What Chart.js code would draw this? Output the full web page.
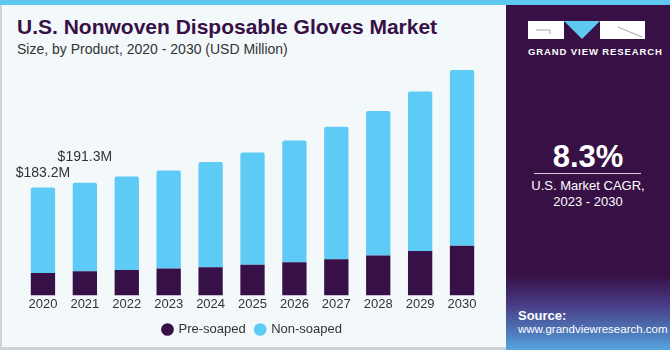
<!DOCTYPE html>
<html><head><meta charset="utf-8">
<script src="https://cdn.jsdelivr.net/npm/chart.js@4"></script>
<style>
html,body{margin:0;padding:0;}
body{width:670px;height:350px;position:relative;overflow:hidden;background:#f3f8fb;font-family:"Liberation Sans",Arial,sans-serif;}
#stripe{position:absolute;left:0;top:0;width:670px;height:5px;background:#5ec8f0;}
#lb{position:absolute;left:0;top:5px;width:2px;height:345px;background:#d0d3d6;}
#bb{position:absolute;left:0;top:347px;width:506px;height:3px;background:#d0d3d6;}
#title{position:absolute;left:17px;top:15px;font-size:21px;font-weight:bold;color:#371046;white-space:nowrap;}
#sub{position:absolute;left:17px;top:41px;font-size:14px;color:#333;white-space:nowrap;}
#panel{position:absolute;left:506px;top:5px;width:164px;height:345px;background:linear-gradient(to bottom,#371046 0px,#371046 270px,#4a3c86 300px,#4f7fbf 330px,#57a6de 345px);}
#wrap{position:absolute;left:0;top:60px;width:505px;height:286px;}
.w{color:#fff;position:absolute;white-space:nowrap;}
</style></head>
<body>
<div id="stripe"></div>
<div id="lb"></div>
<div id="bb"></div>
<div id="title">U.S. Nonwoven Disposable Gloves Market</div>
<div id="sub">Size, by Product, 2020 - 2030 (USD Million)</div>
<div id="panel">
  <svg style="position:absolute;left:0;top:0" width="164" height="50">
    <rect x="22" y="16" width="36" height="18" fill="#fff"/>
    <polyline points="30,25 44,25 44,29" fill="none" stroke="#8a8a9a" stroke-width="0.8"/>
    <polygon points="58,16 94,16 76,34" fill="#5ec8f0"/>
    <rect x="94" y="16" width="45" height="18" fill="#fff"/>
    <line x1="112" y1="22" x2="136" y2="32" stroke="#8a8a9a" stroke-width="0.8"/>
  </svg>
  <div class="w" style="left:22px;top:41px;width:117px;text-align:center;font-size:9.5px;font-weight:bold;letter-spacing:0.9px;">GRAND VIEW RESEARCH</div>
  <div class="w" style="left:0;top:134px;width:164px;text-align:center;font-size:31px;font-weight:bold;">8.3%</div>
  <div style="position:absolute;left:28px;top:168px;width:107px;height:1px;background:#d8d0e0;"></div>
  <div class="w" style="left:0;top:173px;width:164px;text-align:center;font-size:13px;line-height:16px;">U.S. Market CAGR,<br>2023 - 2030</div>
  <div class="w" style="left:12px;top:303px;font-size:13px;font-weight:bold;">Source:</div>
  <div class="w" style="left:12px;top:318px;font-size:11.5px;">www.grandviewresearch.com</div>
</div>
<div id="wrap"><canvas id="c"></canvas></div>
<script>
const years = ["2020","2021","2022","2023","2024","2025","2026","2027","2028","2029","2030"];
const preSoaped = [38.2, 41.1, 43.3, 45.7, 47.9, 51.9, 56.5, 61.6, 68.0, 75.3, 84.4];
const nonSoaped = [145.0, 150.2, 158.7, 166.6, 178.6, 191.1, 206.5, 224.8, 245.3, 271.0, 298.6];
const totalLabels = ["$183.2M", "$191.3M"];

const labelPlugin = {
  id: 'totals',
  afterDatasetsDraw(chart) {
    const ctx = chart.ctx;
    const meta = chart.getDatasetMeta(1);
    const lifts = [14, 26];
    ctx.save();
    ctx.font = '14px "Liberation Sans", Arial, sans-serif';
    ctx.fillStyle = '#333';
    ctx.textAlign = 'center';
    ctx.textBaseline = 'middle';
    totalLabels.forEach((t, i) => {
      const el = meta.data[i];
      ctx.fillText(t, el.x, el.y - lifts[i]);
    });
    ctx.restore();
  }
};

new Chart(document.getElementById('c'), {
  type: 'bar',
  data: {
    labels: years,
    datasets: [
      {label: 'Pre-soaped', data: preSoaped, backgroundColor: '#381048', borderWidth: 0},
      {label: 'Non-soaped', data: nonSoaped, backgroundColor: '#5ecbf6', borderWidth: 0,
       borderRadius: {topLeft: 2, topRight: 2, bottomLeft: 0, bottomRight: 0}, borderSkipped: 'bottom'}
    ]
  },
  options: {
    responsive: true,
    maintainAspectRatio: false,
    animation: false,
    layout: {padding: {left: 22, right: 22, top: 0, bottom: 0}},
    datasets: {bar: {barPercentage: 0.58, categoryPercentage: 1.0}},
    scales: {
      x: {stacked: true, grid: {display: false, drawTicks: false}, border: {display: false},
          ticks: {color: '#333', font: {size: 13, family: '"Liberation Sans", Arial, sans-serif'}, padding: 1}},
      y: {stacked: true, display: false, min: 0, max: 400}
    },
    plugins: {
      legend: {position: 'bottom',
        labels: {usePointStyle: true, pointStyle: 'circle', boxWidth: 9, boxHeight: 9, padding: 10,
                 color: '#333', font: {size: 13, family: '"Liberation Sans", Arial, sans-serif'}}},
      tooltip: {enabled: false}
    }
  },
  plugins: [labelPlugin]
});
</script>
</body></html>
